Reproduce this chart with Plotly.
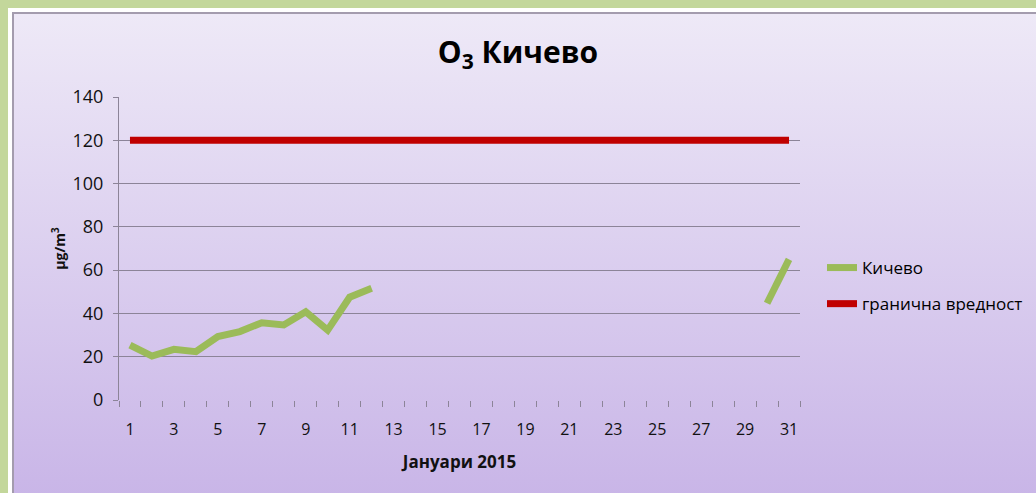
import base64
import plotly.graph_objects as go

# податоци
days = list(range(1, 32))
kichevo = [25.4, 20.3, 23.4, 22.3, 29.3, 31.6, 35.7, 34.7, 40.8, 32.3, 47.5, 51.6,
           None, None, None, None, None, None, None, None, None, None, None, None,
           None, None, None, None, None, 44.7, 65.0]
granica = [120] * 31
x_ticks = list(range(1, 32, 2))

W, H = 1036, 493
L, R, T, B = 119, 236, 97, 93
PW, PH = W - L - R, H - T - B

FONT = "Open Sans"

# позадина: зелена рамка + бела линија + градиент
svg = f"""<svg xmlns='http://www.w3.org/2000/svg' width='{W}' height='{H}'>
<defs><linearGradient id='g' x1='0' y1='0' x2='0' y2='1'>
<stop offset='0' stop-color='#eee9f7'/><stop offset='1' stop-color='#c8b4e7'/></linearGradient></defs>
<rect width='{W}' height='{H}' fill='#c3d79b'/>
<rect x='8' y='8' width='{W}' height='{H}' fill='#ffffff'/>
<rect x='12' y='12' width='{W}' height='{H}' fill='#a49cae'/>
<rect x='14' y='14' width='{W}' height='{H}' fill='url(#g)'/>
</svg>"""
bg = "data:image/svg+xml;base64," + base64.b64encode(svg.encode()).decode()

fig = go.Figure()
fig.add_trace(go.Scatter(x=days, y=kichevo, name="Кичево", mode="lines",
                         line=dict(color="#9bbb59", width=7), connectgaps=False,
                         legendgroup="a"))
fig.add_trace(go.Scatter(x=days, y=granica, name="гранична вредност", mode="lines",
                         line=dict(color="#c00000", width=7), legendgroup="b"))

fig.update_layout(
    width=W, height=H,
    margin=dict(l=L, r=R, t=T, b=B, autoexpand=False),
    paper_bgcolor="#c3d79b", plot_bgcolor="rgba(0,0,0,0)",
    font=dict(family=FONT, color="#111111", size=14),
    title=dict(text="<b>O<sub>3</sub> Кичево</b>", x=0.5, xanchor="center",
               y=1 - 52 / H, yanchor="middle", font=dict(size=30, color="#000000")),
    images=[dict(source=bg, xref="paper", yref="paper",
                 x=-L / PW, y=1 + T / PH, sizex=W / PW, sizey=H / PH,
                 xanchor="left", yanchor="top", sizing="stretch", layer="below")],
    legend=dict(x=(822 - L) / PW, y=(400 - 250) / PH, xanchor="left", yanchor="top",
                bgcolor="rgba(0,0,0,0)", font=dict(size=17, color="#000000"),
                tracegroupgap=11),
    showlegend=True,
)
fig.update_xaxes(
    range=[0.5, 31.5], tickmode="array", tickvals=x_ticks, ticks="",
    ticklabelstandoff=18, tickfont=dict(size=16),
    showgrid=False, zeroline=False, showline=False,
    minor=dict(tickmode="linear", tick0=0.5, dtick=1, ticks="outside",
               ticklen=6, tickcolor="#8c8498", showgrid=False),
    title=dict(text="<b>Јануари 2015</b>", font=dict(size=17), standoff=17),
)
fig.update_yaxes(
    range=[0, 140], dtick=20, ticks="outside", ticklen=5, tickcolor="#8c8498",
    tickfont=dict(size=18), ticklabelstandoff=6,
    showgrid=True, gridcolor="#8c8498", gridwidth=1,
    zeroline=False, showline=True, linecolor="#8c8498",
    title=dict(text="<b>µg/m<sup>3</sup></b>", font=dict(size=14), standoff=3),
)
fig.write_html("out.html", config={"displayModeBar": False},
               post_script="document.body.style.margin='0';")
